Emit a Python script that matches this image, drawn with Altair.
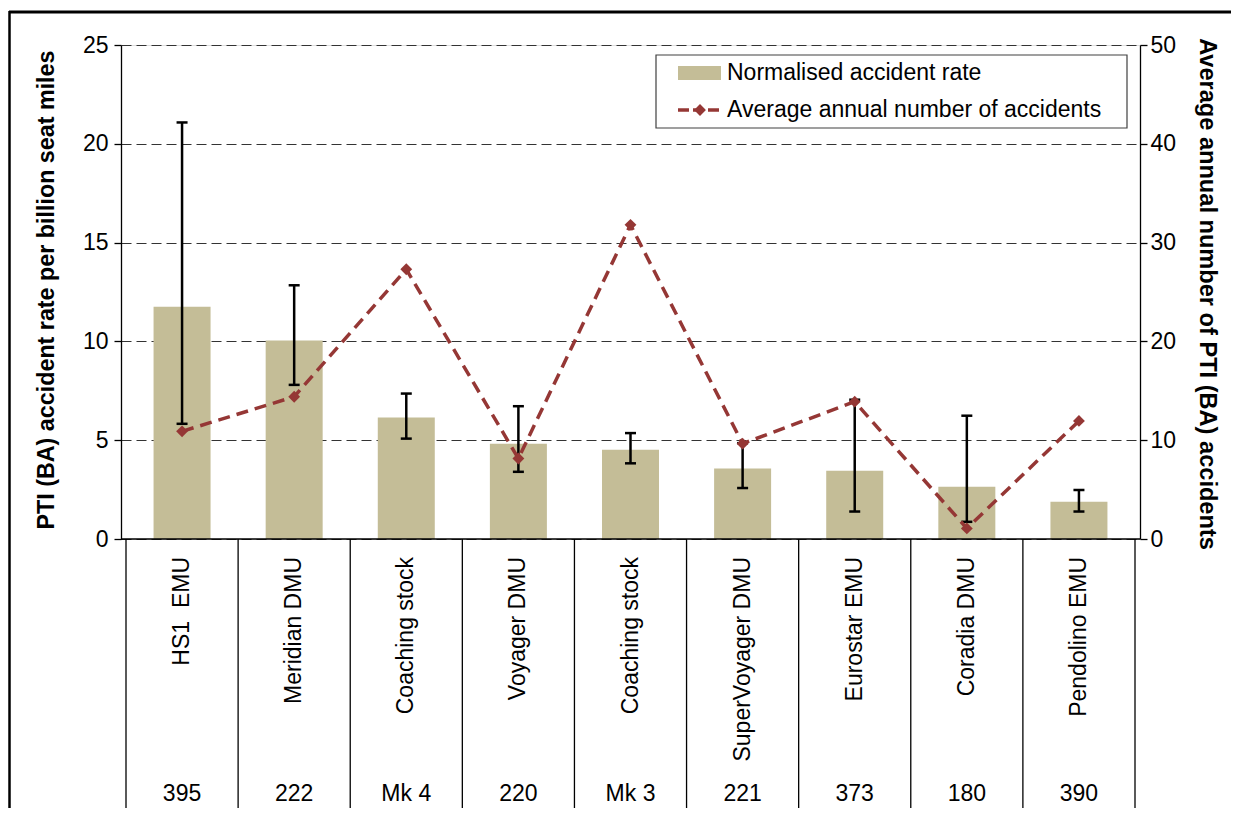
import altair as alt
import pandas as pd

# ---- data ----
names = ["HS1\u00a0\u00a0EMU", "Meridian DMU", "Coaching stock", "Voyager DMU", "Coaching stock",
         "SuperVoyager DMU", "Eurostar EMU", "Coradia DMU", "Pendolino EMU"]
codes = ["395", "222", "Mk 4", "220", "Mk 3", "221", "373", "180", "390"]
rate = [11.75, 10.05, 6.15, 4.82, 4.52, 3.57, 3.46, 2.64, 1.88]
err_low = [5.83, 7.80, 5.08, 3.40, 3.83, 2.58, 1.39, 0.87, 1.39]
err_high = [21.08, 12.84, 7.36, 6.72, 5.36, 4.85, 7.05, 6.24, 2.48]
accidents = [10.9, 14.4, 27.3, 8.15, 31.8, 9.65, 13.9, 1.07, 11.95]
left_ticks = [0, 5, 10, 15, 20, 25]
right_ticks = [0, 10, 20, 30, 40, 50]

FONT = "Liberation Sans"
W, H = 1019, 494
PAD = {"left": 113, "top": 37, "right": 91, "bottom": 269}
BAR = "#C4BD97"
RED = "#953735"

df = pd.DataFrame({
    "idx": list(range(len(names))),
    "name": names,
    "code": codes,
    "rate": rate,
    "lo": err_low,
    "hi": err_high,
    "acc": accidents,
})
bounds = pd.DataFrame({"b": [i - 0.5 for i in range(len(names) + 1)]})
one = pd.DataFrame({"k": [0]})

xscale = alt.Scale(domain=[-0.5, len(names) - 0.5], nice=False, zero=False)
X = alt.X("idx:Q", scale=xscale, axis=None)

left_axis = alt.Axis(orient="left", values=left_ticks, title=None, grid=True,
                     gridDash=[10, 5], gridColor="#333333", gridWidth=1,
                     domainColor="black", domainWidth=1.3, tickColor="black",
                     tickSize=7, tickWidth=1.3, labelFontSize=23, labelFont=FONT,
                     labelColor="black", labelPadding=6)
right_axis = alt.Axis(orient="right", values=right_ticks, title=None, grid=False,
                      domainColor="black", domainWidth=1.3, tickColor="black",
                      tickSize=7, tickWidth=1.3, labelFontSize=23, labelFont=FONT,
                      labelColor="black", labelPadding=3)
yl = alt.Scale(domain=[0, 25], nice=False, zero=True)
yr = alt.Scale(domain=[0, 50], nice=False, zero=True)

base = alt.Chart(df)

bars = base.mark_bar(size=57, color=BAR).encode(
    x=X, y=alt.Y("rate:Q", scale=yl, axis=left_axis))
err = base.mark_rule(color="black", strokeWidth=2.5).encode(
    x=X, y=alt.Y("lo:Q", scale=yl, axis=left_axis), y2="hi:Q")
cap_hi = base.mark_rule(color="black", strokeWidth=2.5, xOffset=-5.5, x2Offset=5.5).encode(
    x=X, x2="idx:Q", y=alt.Y("hi:Q", scale=yl, axis=left_axis))
cap_lo = base.mark_rule(color="black", strokeWidth=2.5, xOffset=-5.5, x2Offset=5.5).encode(
    x=X, x2="idx:Q", y=alt.Y("lo:Q", scale=yl, axis=left_axis))
left = alt.layer(bars, err, cap_hi, cap_lo)

line = base.mark_line(color=RED, strokeWidth=3.5, strokeDash=[12, 7]).encode(
    x=X, y=alt.Y("acc:Q", scale=yr, axis=right_axis))
pts = base.mark_point(shape="diamond", filled=True, size=140, color=RED, opacity=1).encode(
    x=X, y=alt.Y("acc:Q", scale=yr, axis=right_axis))
right = alt.layer(line, pts)

# baseline and category separators
baseline = alt.Chart(one).mark_rule(color="black", strokeWidth=1.3).encode(
    x=alt.value(0), x2=alt.value(W), y=alt.value(H))
seps = alt.Chart(bounds).mark_rule(color="black", strokeWidth=1.3).encode(
    x=alt.X("b:Q", scale=xscale, axis=None), y=alt.value(H), y2=alt.value(H + PAD["bottom"]))

# category labels (two levels)
name_lbl = base.mark_text(font=FONT, fontSize=23, angle=270, align="right",
                          baseline="middle", color="black").encode(
    x=X, y=alt.value(H + 18), text="name:N")
code_lbl = base.mark_text(font=FONT, fontSize=23, align="center",
                          baseline="alphabetic", color="black").encode(
    x=X, y=alt.value(H + 262), text="code:N")

# axis titles
ltitle = alt.Chart(one).mark_text(text="PTI (BA) accident rate per billion seat miles",
                                  font=FONT, fontSize=23.3, fontWeight="bold", angle=270,
                                  align="center", baseline="middle", color="black").encode(
    x=alt.value(-74), y=alt.value(245))
rtitle = alt.Chart(one).mark_text(text="Average annual number of  PTI (BA) accidents",
                                  font=FONT, fontSize=23.6, fontWeight="bold", angle=90,
                                  align="center", baseline="middle", color="black").encode(
    x=alt.value(1086), y=alt.value(249))

# legend
lg_box = alt.Chart(one).mark_rect(fill="white", stroke="#404040", strokeWidth=1.2).encode(
    x=alt.value(535), x2=alt.value(1006), y=alt.value(10), y2=alt.value(83))
lg_sw = alt.Chart(one).mark_rect(fill=BAR).encode(
    x=alt.value(557), x2=alt.value(600), y=alt.value(21), y2=alt.value(35))
lg_ln = alt.Chart(one).mark_rule(color=RED, strokeWidth=3.5, strokeDash=[11, 4]).encode(
    x=alt.value(557), x2=alt.value(601), y=alt.value(65))
lg_pt = alt.Chart(one).mark_point(shape="diamond", filled=True, size=140, color=RED, opacity=1).encode(
    x=alt.value(579), y=alt.value(65))
lg_t1 = alt.Chart(one).mark_text(text="Normalised accident rate", font=FONT, fontSize=23,
                                 align="left", baseline="middle", color="black").encode(
    x=alt.value(606), y=alt.value(28))
lg_t2 = alt.Chart(one).mark_text(text="Average annual number of accidents", font=FONT, fontSize=23,
                                 align="left", baseline="middle", color="black").encode(
    x=alt.value(606), y=alt.value(65))

# outer frame
frame_top = alt.Chart(one).mark_rule(color="black", strokeWidth=3).encode(
    x=alt.value(-PAD["left"] + 1), x2=alt.value(W + PAD["right"]), y=alt.value(-33))
frame_left = alt.Chart(one).mark_rule(color="black", strokeWidth=2.5).encode(
    x=alt.value(-PAD["left"] + 1.5), y=alt.value(-34), y2=alt.value(H + PAD["bottom"]))

chart = alt.layer(
    left, right, baseline, seps, name_lbl, code_lbl, ltitle, rtitle,
    lg_box, lg_sw, lg_ln, lg_pt, lg_t1, lg_t2, frame_top, frame_left
).resolve_scale(y="independent").properties(
    width=W, height=H, padding=PAD,
    autosize=alt.AutoSizeParams(type="none"),
    background="white",
).configure_view(stroke=None).configure(font=FONT)

chart.save("out.html", embed_options={"renderer": "svg", "actions": False})
